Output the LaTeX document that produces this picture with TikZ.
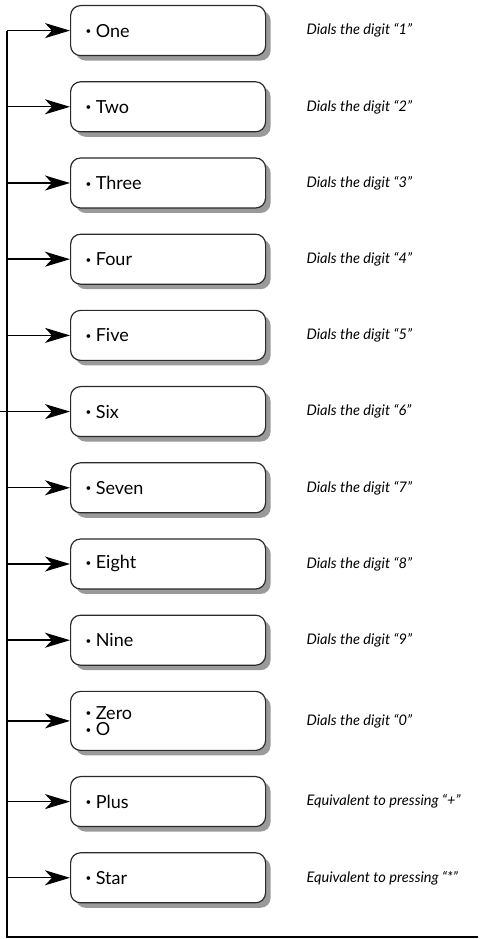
\documentclass[tikz,border=0pt]{standalone}
\usepackage{fontspec}
\setmainfont{Lato}
\usetikzlibrary{arrows.meta,positioning,shadows}
\definecolor{boxline}{HTML}{2A2A2A}
\definecolor{shadowgray}{HTML}{9A9A9A}
\newcommand\kbul{\raisebox{.25ex}{\scalebox{.55}{•}}\hspace{.25em}}
\tikzset{
  keybox/.style={draw=boxline,line width=.6pt,rounded corners=5pt,fill=white,
    minimum width=97.5pt,minimum height=25pt,text width=82.5pt,inner xsep=7pt,align=left,
    drop shadow={shadow xshift=2.5pt,shadow yshift=-2.5pt,fill=shadowgray,opacity=1},
    font=\fontsize{9}{8.2}\selectfont},
  note/.style={inner sep=0pt,font=\itshape\fontsize{7.3}{8}\selectfont},
  feed/.style={-{Stealth[length=12.5pt,width=7.5pt,inset=3.5pt]},line width=.7pt},
  bus/.style={line width=.7pt},
}
\begin{document}
\begin{tikzpicture}[node distance=12.5pt]
  \useasboundingbox (0,0) rectangle (240.5pt,469.5pt);
  % keyword boxes
  \node[keybox,anchor=north west] (b1) at (35pt,467pt) {\kbul One};
  \node[keybox,below=of b1] (b2) {\kbul Two};
  \node[keybox,below=of b2] (b3) {\kbul Three};
  \node[keybox,below=of b3] (b4) {\kbul Four};
  \node[keybox,below=of b4] (b5) {\kbul Five};
  \node[keybox,below=of b5] (b6) {\kbul Six};
  \node[keybox,below=of b6] (b7) {\kbul Seven};
  \node[keybox,below=of b7] (b8) {\kbul Eight};
  \node[keybox,below=of b8] (b9) {\kbul Nine};
  \node[keybox,minimum height=29.5pt,below=of b9] (b10) {\kbul Zero\\\kbul O};
  \node[keybox,below=of b10] (b11) {\kbul Plus};
  \node[keybox,below=of b11] (b12) {\kbul Star};
  % descriptions
  \foreach \k/\d in {1/1,2/2,3/3,4/4,5/5,6/6,7/7,8/8,9/9,10/0}
    \node[note,right=20pt of b\k] (n\k) {Dials the digit “\d”};
  \node[note,right=20pt of b11] (n11) {Equivalent to pressing “+”};
  \node[note,right=20pt of b12] (n12) {Equivalent to pressing “*”};
  % bus and feeds
  \coordinate (busx) at (3.5pt,1pt);
  \coordinate (busend) at (239pt,1pt);
  \coordinate (inlet) at (0pt,1pt);
  \draw[bus] (busend) -- (busx) -- (busx |- b1.west);
  \draw[bus] (inlet |- b6.west) -- (busx |- b6.west);
  \foreach \k in {1,...,12}
    \draw[feed] (busx |- b\k.west) -- (b\k.west);
\end{tikzpicture}
\end{document}
